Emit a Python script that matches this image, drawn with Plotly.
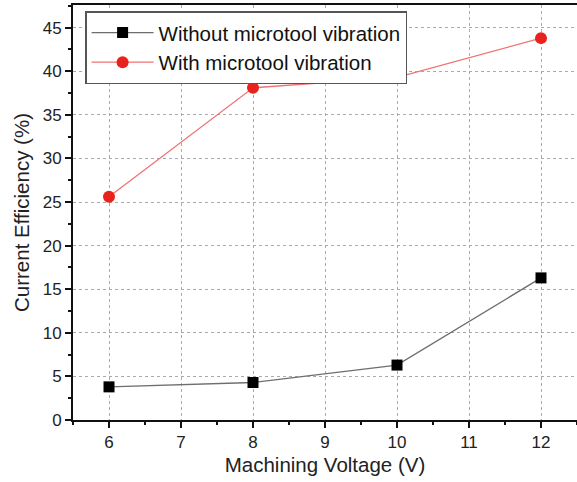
import plotly.graph_objects as go

voltage = [6, 8, 10, 12]
without_vib = [3.8, 4.3, 6.3, 16.3]
with_vib = [25.6, 38.1, 39.3, 43.8]
name_without = "Without microtool vibration"
name_with = "With microtool vibration"

fig = go.Figure()
fig.add_trace(go.Scatter(
    x=voltage, y=without_vib, name=name_without, mode="lines+markers",
    line=dict(color="#6e6e6e", width=1.3),
    marker=dict(symbol="square", size=11, color="#000000"),
))
fig.add_trace(go.Scatter(
    x=voltage, y=with_vib, name=name_with, mode="lines+markers",
    line=dict(color="#f07272", width=1.3),
    marker=dict(symbol="circle", size=12, color="#e8221c"),
))

font = "Liberation Sans, Arial, sans-serif"
fig.update_layout(
    width=577, height=482,
    margin=dict(l=73, r=0, t=5, b=62),
    paper_bgcolor="white", plot_bgcolor="white",
    font=dict(family=font, color="#222222"),
    showlegend=True,
    legend=dict(
        x=0.024, y=0.985, xanchor="left", yanchor="top",
        bordercolor="#555555", borderwidth=1.5, bgcolor="white",
        font=dict(size=20.5, family=font, color="#111111"),
        tracegroupgap=0, itemwidth=62,
    ),
)
fig.update_xaxes(
    range=[5.5, 12.5], tickmode="linear", tick0=6, dtick=1,
    showline=True, linecolor="#111111", linewidth=2, mirror=True,
    ticks="outside", ticklen=6, tickwidth=2, tickcolor="#111111",
    minor=dict(dtick=0.5, tick0=5.5, ticks="outside", ticklen=3, tickwidth=2, tickcolor="#111111", showgrid=False),
    showgrid=True, gridcolor="#aaaaaa", griddash="dot", gridwidth=1,
    zeroline=False,
    tickfont=dict(size=17, family=font, color="#222222"),
    title=dict(text="Machining Voltage (V)", font=dict(size=20.5, family=font, color="#222222"), standoff=6),
)
fig.update_yaxes(
    range=[0, 47.6], tickmode="linear", tick0=0, dtick=5,
    showline=True, linecolor="#111111", linewidth=2, mirror=False,
    ticks="outside", ticklen=6, tickwidth=2, tickcolor="#111111",
    minor=dict(dtick=2.5, tick0=0, ticks="outside", ticklen=3, tickwidth=2, tickcolor="#111111", showgrid=False),
    showgrid=True, gridcolor="#aaaaaa", griddash="dot", gridwidth=1,
    zeroline=False,
    tickfont=dict(size=17, family=font, color="#222222"),
    title=dict(text="Current Efficiency (%)", font=dict(size=20.5, family=font, color="#222222"), standoff=8),
)

fig.write_html("out.html")
